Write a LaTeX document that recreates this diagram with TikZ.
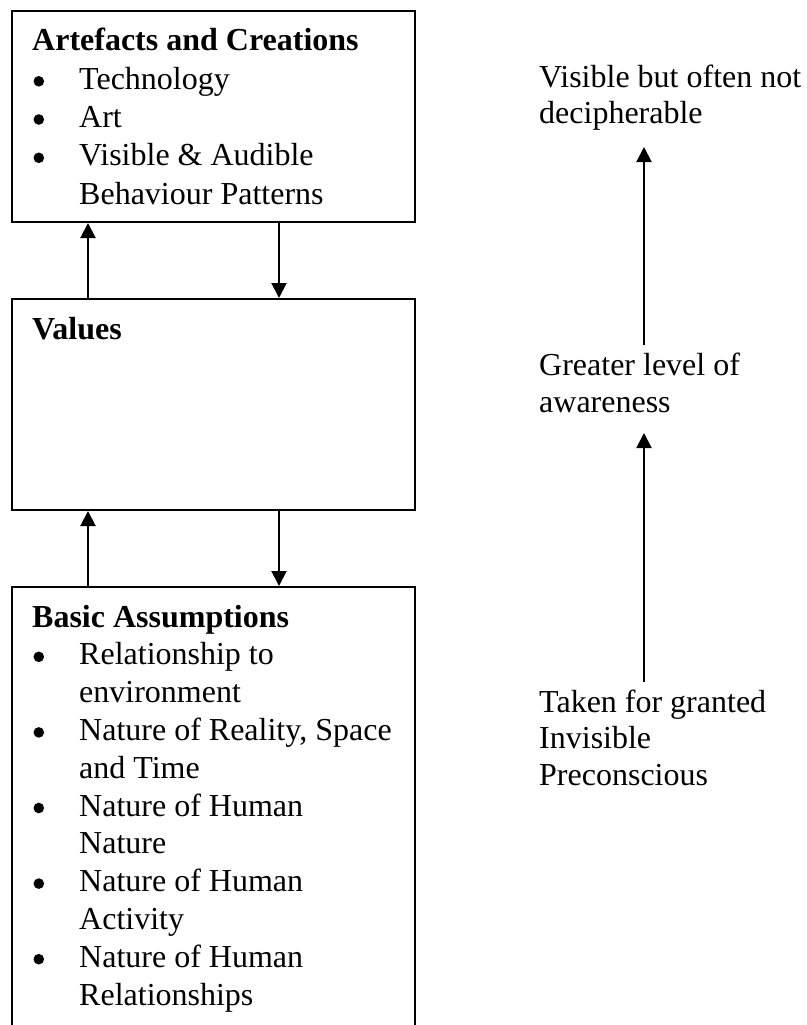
\documentclass[tikz,border=0pt]{standalone}
\usepackage{fontspec}
\setmainfont{Liberation Serif}
\usetikzlibrary{arrows.meta}
\begin{document}
\begin{tikzpicture}[x=1pt,y=-1pt,
  box/.style={draw, line width=2pt, inner sep=0pt, anchor=north west, minimum width=403pt},
  txt/.style={anchor=base west, inner sep=0pt, font=\fontsize{32}{37}\selectfont},
  ttl/.style={anchor=base west, inner sep=0pt, font=\fontsize{32}{37}\selectfont\bfseries},
  conn/.style={line width=2pt, -{Triangle[width=15pt,length=15pt]}},
  bul/.style={fill=black}]
\clip (0,0) rectangle (806,1025);
\fill[white] (0,0) rectangle (806,1025);

% boxes
\node[box, minimum height=211pt] (art) at (11,10) {};
\node[box, minimum height=211pt] (val) at (11,298) {};
\node[box, minimum height=520pt] (bas) at (11,586) {};

% top box text
\node[ttl] (artT) at (32,51) {Artefacts and Creations};
\node[txt] (art1) at (79,89.3) {Technology};
\node[txt] (art2) at (79,127.5) {Art};
\node[txt] (art3) at (79,165.8) {Visible \& Audible};
\node[txt] (art4) at (79,204) {Behaviour Patterns};
\foreach \b in {89.3,127.5,165.8} \fill[bul] (38.8,\b-8) circle (5.3pt);

% values
\node[ttl] (valT) at (32,339) {Values};

% basic assumptions
\node[ttl] (basT) at (32,627) {Basic Assumptions};
\node[txt] (bas1) at (79,664.8) {Relationship to};
\node[txt] (bas2) at (79,702.6) {environment};
\node[txt] (bas3) at (79,740.4) {Nature of Reality, Space};
\node[txt] (bas4) at (79,778.2) {and Time};
\node[txt] (bas5) at (79,816) {Nature of Human};
\node[txt] (bas6) at (79,853.8) {Nature};
\node[txt] (bas7) at (79,891.6) {Nature of Human};
\node[txt] (bas8) at (79,929.4) {Activity};
\node[txt] (bas9) at (79,967.2) {Nature of Human};
\node[txt] (bas10) at (79,1005) {Relationships};
\foreach \b in {664.8,740.4,816,891.6,967.2} \fill[bul] (38.8,\b-8) circle (5.3pt);

% connectors between boxes
\coordinate (ux) at (88,0);
\coordinate (dx) at (279,0);
\draw[conn] (val.north -| ux) -- (art.south -| ux);
\draw[conn] (art.south -| dx) -- (val.north -| dx);
\draw[conn] (bas.north -| ux) -- (val.south -| ux);
\draw[conn] (val.south -| dx) -- (bas.north -| dx);

% right column
\node[txt] (r1) at (539,87) {Visible but often not};
\node[txt] (r2) at (539,123) {decipherable};
\node[txt] (r3) at (539,375) {Greater level of};
\node[txt] (r4) at (539,412) {awareness};
\node[txt] (r5) at (539,712) {Taken for granted};
\node[txt] (r6) at (539,748.5) {Invisible};
\node[txt] (r7) at (539,785) {Preconscious};

\coordinate (a1s) at (644,345);
\coordinate (a1e) at (644,147);
\coordinate (a2s) at (644,682);
\coordinate (a2e) at (644,433);
\draw[conn] (a1s) -- (a1e);
\draw[conn] (a2s) -- (a2e);
\end{tikzpicture}
\end{document}
